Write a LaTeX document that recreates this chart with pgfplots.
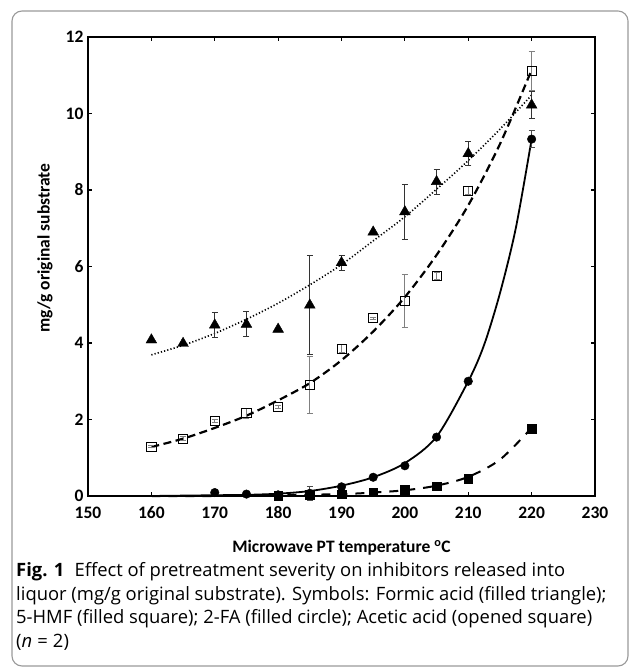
\documentclass[border=0pt]{standalone}
\usepackage{pgfplots}
\pgfplotsset{compat=1.18}
\usepackage{pgfplotstable}
\usepackage{fontspec}
\setmainfont{Open Sans}
\newfontfamily\chartfont{Carlito}

% measured points: x, mean, error
\pgfplotstableread{
x y e
160 4.08 0
165 3.99 0
170 4.47 0.33
175 4.49 0.33
180 4.36 0
185 4.99 1.30
190 6.10 0.20
195 6.90 0
200 7.43 0.72
205 8.22 0.33
210 8.95 0.32
220 10.22 0.35
}\formic

\pgfplotstableread{
x y e
160 1.29 0.03
165 1.50 0.05
170 1.96 0.05
175 2.17 0.13
180 2.33 0.04
185 2.90 0.74
190 3.85 0.10
195 4.65 0.03
200 5.10 0.70
205 5.75 0.10
210 7.98 0.10
220 11.11 0.52
}\acetic

\pgfplotstableread{
x y e
170 0.09 0
175 0.05 0
180 0.03 0
185 0.07 0.19
190 0.24 0
195 0.49 0
200 0.79 0
205 1.54 0
210 3.00 0
220 9.33 0.22
}\furfural

\pgfplotstableread{
x y e
180 0.00 0
185 0.03 0
190 0.05 0
195 0.10 0
200 0.16 0
205 0.26 0
210 0.46 0
220 1.76 0
}\hmf

\begin{document}
\begin{tikzpicture}[x=1pt,y=1pt]
\useasboundingbox (0,0) rectangle (630,668);
\draw[gray!80, line width=1.1pt, rounded corners=10pt] (12,2) rectangle (628,657);

\begin{axis}[
  at={(88pt,172pt)}, anchor=south west,
  scale only axis, width=507pt, height=459pt,
  xmin=150, xmax=230, ymin=0, ymax=12,
  xtick={150,160,...,230}, ytick={0,2,...,12},
  axis line style={line width=2.4pt},
  tick align=inside, major tick length=4pt,
  tick style={line width=1.2pt, black},
  xticklabel={\pgfmathprintnumber[assume math mode=true]{\tick}},
  yticklabel={\pgfmathprintnumber[assume math mode=true]{\tick}},
  ticklabel style={font=\chartfont\bfseries\fontsize{17.5}{17.5}\selectfont},
  xticklabel style={yshift=-7pt},
  yticklabel style={xshift=-1pt},
  xlabel={Microwave PT temperature \textsuperscript{o}C},
  ylabel={mg/g original substrate},
  every axis x label/.style={at={(axis description cs:0.5,-0.113)}, anchor=center,
    font=\chartfont\bfseries\fontsize{17.5}{17.5}\selectfont},
  every axis y label/.style={at={(axis description cs:-0.085,0.54)}, anchor=center, rotate=90,
    font=\chartfont\bfseries\fontsize{17.5}{17.5}\selectfont},
  clip=false,
]
% trendlines
\addplot[black, line width=1.6pt, dash pattern=on 1.2pt off 2.1pt, smooth] coordinates {
  (160,3.69) (165,3.94) (170,4.25) (175,4.62) (180,5.04) (185,5.52) (190,6.05)
  (195,6.67) (200,7.30) (205,8.02) (210,8.77) (215,9.59) (220,10.48)};
\addplot[black, line width=2.2pt, dash pattern=on 8pt off 4.5pt, smooth] coordinates {
  (160,1.28) (165,1.50) (170,1.78) (175,2.10) (180,2.50) (185,2.95) (190,3.55)
  (195,4.30) (200,5.20) (205,6.30) (210,7.60) (215,9.20) (220,11.14)};
\addplot[black, line width=1.8pt, smooth] coordinates {
  (160,0.00) (165,0.01) (170,0.02) (175,0.03) (180,0.06) (185,0.13) (190,0.27)
  (195,0.49) (200,0.86) (205,1.55) (210,3.00) (212.5,3.95) (215,5.30) (217.5,7.00) (220,9.33)};
\addplot[black, line width=2pt, dash pattern=on 9pt off 8pt, smooth] coordinates {
  (160,0.00) (170,0.00) (180,0.02) (190,0.05) (195,0.09) (200,0.15) (205,0.27)
  (210,0.50) (215,0.95) (220,1.78)};

% data points
\addplot[only marks, mark=square, mark size=4.6pt, mark options={black, line width=0.8pt, fill=white},
  error bars/.cd, y dir=both, y explicit,
  error bar style={gray, line width=0.9pt}, error mark options={gray, rotate=90, mark size=3pt, line width=0.9pt}]
  table[x=x, y=y, y error=e] {\acetic};
\addplot[only marks, mark=*, mark size=4.3pt, mark options={black},
  error bars/.cd, y dir=both, y explicit,
  error bar style={gray!60!black, line width=0.9pt}, error mark options={gray!60!black, rotate=90, mark size=3pt, line width=0.9pt}]
  table[x=x, y=y, y error=e] {\furfural};
\addplot[only marks, mark=square*, mark size=4.3pt, mark options={black}]
  table[x=x, y=y] {\hmf};
\addplot[only marks, mark=triangle*, mark size=6.2pt, mark options={black},
  error bars/.cd, y dir=both, y explicit,
  error bar style={black!80, line width=0.9pt}, error mark options={black!80, rotate=90, mark size=3pt, line width=0.9pt}]
  table[x=x, y=y, y error=e] {\formic};
\end{axis}

\fontsize{18.4}{18.4}\selectfont
\node[anchor=base west, inner sep=0pt] at (16,91) {\textbf{Fig. 1}\hspace{0.55em}Effect of pretreatment severity on inhibitors released into};
\node[anchor=base west, inner sep=0pt] at (16,67.5) {liquor (mg/g original substrate). Symbols: Formic acid (filled triangle);};
\node[anchor=base west, inner sep=0pt] at (16,44) {5-HMF (filled square); 2-FA (filled circle); Acetic acid (opened square)};
\node[anchor=base west, inner sep=0pt] at (16,20.5) {(\textit{n}\;=\;2)};
\end{tikzpicture}
\end{document}
